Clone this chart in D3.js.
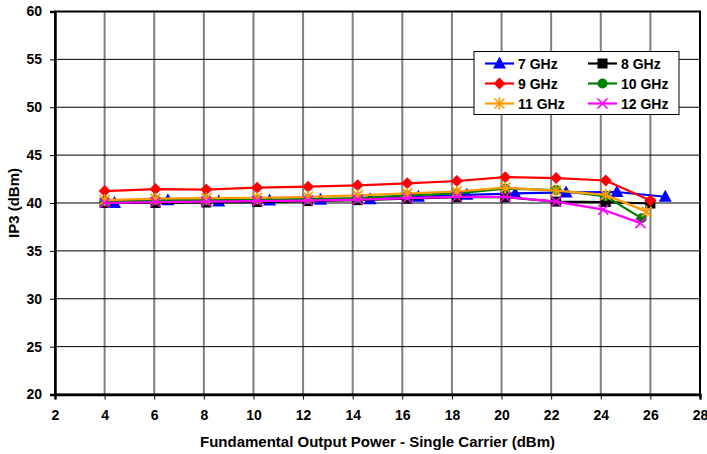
<!DOCTYPE html>
<html>
<head>
<meta charset="utf-8">
<script src="https://cdn.jsdelivr.net/npm/d3@7"></script>
<style>
  html, body { margin: 0; padding: 0; background: #fff; }
  svg { display: block; }
  text { font-family: Arial, "Liberation Sans", sans-serif; font-weight: bold; }
</style>
</head>
<body>
<svg id="chart" width="707" height="454"></svg>
<script>
// IP3 versus single-carrier fundamental output power, one series per frequency
const seriesNames = ["7 GHz", "8 GHz", "9 GHz", "10 GHz", "11 GHz", "12 GHz"];
const seriesColors = ["#0000ff", "#000000", "#ff0000", "#008000", "#ff9900", "#ff00ff"];
const seriesSymbols = ["triangle", "square", "diamond", "circle", "asterisk", "cross"];

const pout7  = [4.4, 6.55, 8.6, 10.65, 12.7, 14.7, 16.65, 18.6, 20.55, 22.6, 24.65, 26.6];
const ip3_7  = [40.0, 40.3, 40.15, 40.25, 40.35, 40.4, 40.65, 40.85, 41.0, 41.1, 41.15, 40.65];
const pout8  = [4.0, 6.05, 8.1, 10.15, 12.2, 14.2, 16.2, 18.2, 20.15, 22.2, 24.2, 26.0];
const ip3_8  = [40.0, 40.0, 40.05, 40.1, 40.2, 40.3, 40.45, 40.6, 40.6, 40.15, 40.1, 39.95];
const pout9  = [4.0, 6.05, 8.1, 10.15, 12.2, 14.2, 16.2, 18.2, 20.15, 22.2, 24.2, 26.0];
const ip3_9  = [41.25, 41.45, 41.4, 41.6, 41.7, 41.85, 42.05, 42.3, 42.7, 42.6, 42.35, 40.25];
const pout10 = [4.0, 6.05, 8.1, 10.15, 12.2, 14.2, 16.2, 18.2, 20.15, 22.2, 24.2, 25.65];
const ip3_10 = [40.2, 40.3, 40.3, 40.35, 40.4, 40.5, 40.8, 41.0, 41.5, 41.35, 40.7, 38.4];
const pout11 = [4.0, 6.05, 8.1, 10.15, 12.2, 14.2, 16.2, 18.2, 20.15, 22.2, 24.2, 25.85];
const ip3_11 = [40.3, 40.45, 40.5, 40.55, 40.65, 40.8, 41.0, 41.2, 41.6, 41.3, 40.85, 39.1];
const pout12 = [4.0, 6.05, 8.1, 10.15, 12.2, 14.2, 16.2, 18.2, 20.15, 22.2, 24.1, 25.6];
const ip3_12 = [40.0, 40.1, 40.15, 40.2, 40.25, 40.35, 40.5, 40.65, 40.65, 40.15, 39.3, 37.9];

const xTicks = [2, 4, 6, 8, 10, 12, 14, 16, 18, 20, 22, 24, 26, 28];
const yTicks = [20, 25, 30, 35, 40, 45, 50, 55, 60];
const xTitle = "Fundamental Output Power - Single Carrier (dBm)";
const yTitle = "IP3 (dBm)";

const allX = [pout7, pout8, pout9, pout10, pout11, pout12];
const allY = [ip3_7, ip3_8, ip3_9, ip3_10, ip3_11, ip3_12];
const series = seriesNames.map((name, i) => ({
  name, color: seriesColors[i], symbol: seriesSymbols[i],
  points: allX[i].map((x, j) => ({ x, y: allY[i][j] }))
}));

const svg = d3.select("#chart");
const plot = { left: 55, right: 700, top: 11.5, bottom: 394.5 };

const x = d3.scaleLinear().domain([2, 28]).range([plot.left, plot.right]);
const y = d3.scaleLinear().domain([20, 60]).range([plot.bottom, plot.top]);

// gridlines
svg.append("g").selectAll("line").data(xTicks.slice(1, -1)).join("line")
  .attr("x1", d => x(d)).attr("x2", d => x(d))
  .attr("y1", plot.top).attr("y2", plot.bottom)
  .attr("stroke", "#808080").attr("stroke-width", 2);
svg.append("g").selectAll("line").data(yTicks.slice(1, -1)).join("line")
  .attr("x1", plot.left).attr("x2", plot.right)
  .attr("y1", d => y(d)).attr("y2", d => y(d))
  .attr("stroke", "#000").attr("stroke-width", 1);

// plot frame
svg.append("rect")
  .attr("x", plot.left).attr("y", plot.top)
  .attr("width", plot.right - plot.left).attr("height", plot.bottom - plot.top)
  .attr("fill", "none").attr("stroke", "#000").attr("stroke-width", 2);

// axes
const xAxis = svg.append("g")
  .attr("transform", `translate(0,${plot.bottom})`)
  .call(d3.axisBottom(x).tickValues(xTicks).tickSize(5).tickPadding(11).tickFormat(d3.format("d")));
const yAxis = svg.append("g")
  .attr("transform", `translate(${plot.left},0)`)
  .call(d3.axisLeft(y).tickValues(yTicks).tickSize(5).tickPadding(8).tickFormat(d3.format("d")));
[xAxis, yAxis].forEach(a => {
  a.select(".domain").attr("stroke", "#000").attr("stroke-width", 2.5);
  a.selectAll(".tick line").attr("stroke", "#000").attr("stroke-width", 1);
  a.selectAll(".tick text").attr("fill", "#000").style("font-size", "14px").style("font-weight", "bold")
    .style("font-family", 'Arial, "Liberation Sans", sans-serif');
});

// axis titles
svg.append("text").attr("x", (plot.left + plot.right) / 2).attr("y", 447)
  .attr("text-anchor", "middle").style("font-size", "15px").text(xTitle);
svg.append("text")
  .attr("transform", `translate(18.5,203) rotate(-90)`)
  .attr("text-anchor", "middle").style("font-size", "15px").text(yTitle);

// marker drawing
function drawMarker(g, sym, color, cx, cy) {
  const m = g.append("g").attr("transform", `translate(${cx},${cy})`);
  if (sym === "triangle") {
    m.append("path").attr("d", "M0,-7L6.5,5L-6.5,5Z").attr("fill", color);
  } else if (sym === "square") {
    m.append("rect").attr("x", -5).attr("y", -5).attr("width", 10).attr("height", 10).attr("fill", color);
  } else if (sym === "diamond") {
    m.append("path").attr("d", "M0,-6L6,0L0,6L-6,0Z").attr("fill", color);
  } else if (sym === "circle") {
    m.append("circle").attr("r", 5).attr("fill", color);
  } else if (sym === "asterisk") {
    m.append("path").attr("d", "M-5,-5L5,5M-5,5L5,-5M0,-6L0,6")
      .attr("stroke", color).attr("stroke-width", 1.6).attr("fill", "none");
  } else if (sym === "cross") {
    m.append("path").attr("d", "M-5,-5L5,5M-5,5L5,-5")
      .attr("stroke", color).attr("stroke-width", 1.6).attr("fill", "none");
  }
}

const line = d3.line().x(d => x(d.x)).y(d => y(d.y));
const dataLayer = svg.append("g");
series.forEach(s => {
  const g = dataLayer.append("g");
  g.append("path").datum(s.points).attr("d", line)
    .attr("fill", "none").attr("stroke", s.color).attr("stroke-width", 2.2)
    .attr("stroke-linejoin", "round");
  s.points.forEach(p => drawMarker(g, s.symbol, s.color, x(p.x), y(p.y)));
});

// legend
const legend = svg.append("g");
legend.append("rect").attr("x", 474).attr("y", 51.5).attr("width", 205).attr("height", 63)
  .attr("fill", "#fff").attr("stroke", "#000").attr("stroke-width", 1);
const colX = [485, 588];
const rowY = [63.5, 83.5, 103.5];
series.forEach((s, i) => {
  const cx = colX[i % 2], cy = rowY[Math.floor(i / 2)];
  const g = legend.append("g");
  g.append("line").attr("x1", cx).attr("x2", cx + 29).attr("y1", cy).attr("y2", cy)
    .attr("stroke", s.color).attr("stroke-width", 2.2);
  drawMarker(g, s.symbol, s.color, cx + 14.5, cy);
  g.append("text").attr("x", cx + 33).attr("y", cy + 5).style("font-size", "14px").text(s.name);
});
</script>
</body>
</html>
